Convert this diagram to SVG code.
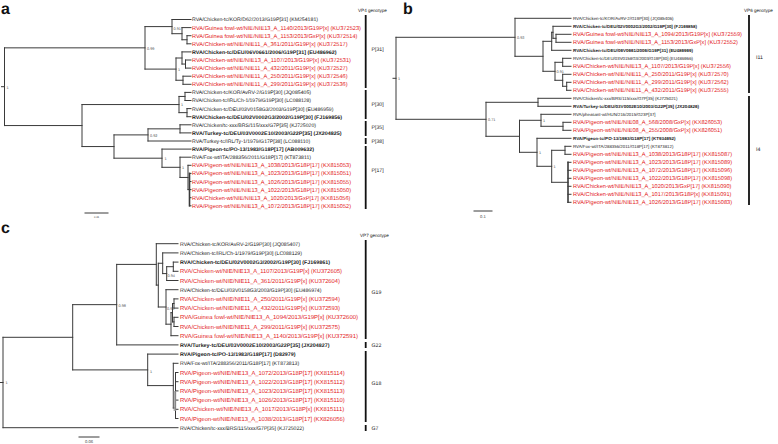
<svg xmlns="http://www.w3.org/2000/svg" width="778" height="444" viewBox="0 0 778 444">
<style>
text{font-family:"Liberation Sans",Arial,sans-serif;text-rendering:geometricPrecision}
.br{fill:none;stroke:#3a3a3a;stroke-width:1;stroke-linecap:square}
.bar{stroke:#111;stroke-width:1.8}
.k{fill:#1a1a1a}
.r{fill:#e3201b}
.bd{font-weight:bold}
.ak{font-size:5.1px}.ar{font-size:5.6px}
.bk{font-size:4.4px}.brd{font-size:5.6px}
.ck{font-size:5.2px}.cr{font-size:5.8px}
.nl{font-size:3.8px;fill:#555}
.gt{font-size:4.6px;fill:#222}
.gl{font-size:5.2px;fill:#222}
.pl{font-size:16px;font-weight:bold;fill:#111}
.sc{font-size:4.2px;fill:#444}
</style>
<rect width="778" height="444" fill="#fff"/>

<!-- Panel a -->
<g id="panel-a">
<text class="pl" x="1" y="13.5">a</text>
<g id="a-branches">
<path class="br" d="M1.5 86.7H4.5M4.5 47.85V125.55M4.5 47.85H145M4.5 125.55H82
M145 26.6V69.1M145 26.6H172M145 69.1H176
M172 19.5V33.7M172 19.5H191M172 33.7H182
M182 27.6V39.75M182 27.6H191M182 39.75H187
M187 35.7V43.8M187 35.7H191M187 43.8H191
M176 58V80.25M176 58H182M176 80.25H183
M182 51.9V64.05M182 51.9H191M182 64.05H185.5
M185.5 60V68.1M185.5 60H191M185.5 68.1H191
M183 76.2V84.3M183 76.2H191M183 84.3H191
M82 104.55V146.55M82 104.55H179M82 146.55H114
M179 96.45V112.65M179 96.45H185M179 112.65H187
M185 92.4V100.5M185 92.4H191M185 100.5H191
M187 108.6V116.7M187 108.6H191M187 116.7H191
M114 134.9V158.2M114 134.9H148M114 158.2H162
M148 128.85V141M148 128.85H180M148 141H191
M180 124.8V132.9M180 124.8H191M180 132.9H191
M162 149.1V167.3M162 149.1H191M162 167.3H180
M180 157.2V177.45M180 157.2H191M180 177.45H188
M188 165.3V189.6M188 165.3H191M188 189.6H189.5
M189.5 173.4H191M189.5 181.5H191M189.5 189.6H191M189.5 197.7H191M189.5 205.8H191"/>
<path class="br" style="stroke-width:1.6" d="M189.5 173.4V205.8"/>
</g>
<g id="a-support">
<text class="nl" x="6.5" y="88.5">1</text>
<text class="nl" x="147" y="49.5">0.99</text>
<text class="nl" x="173.5" y="29.5">0.91</text>
<text class="nl" x="178" y="71">1</text>
<text class="nl" x="181" y="106">1</text>
<text class="nl" x="150" y="136.5">0.92</text>
<text class="nl" x="164.5" y="160">1</text>
<text class="nl" x="182" y="169">1</text>
</g>
<g id="a-leaves" lengthAdjust="spacingAndGlyphs">
<text class="k ak" x="192" y="21.4" textLength="126" lengthAdjust="spacingAndGlyphs">RVA/Chicken-tc/KOR/D62/2013/G19P[31] (KM254181)</text>
<text class="r ar" x="192" y="29.6" textLength="169" lengthAdjust="spacingAndGlyphs">RVA/Guinea fowl-wt/NIE/NIE13_A_1140/2013/G19P[x] (KU372523)</text>
<text class="r ar" x="192" y="37.7" textLength="165.5" lengthAdjust="spacingAndGlyphs">RVA/Guinea fowl-wt/NIE/NIE13_A_1153/2013/GxP[x] (KU372514)</text>
<text class="r ar" x="192" y="45.8" textLength="155.6" lengthAdjust="spacingAndGlyphs">RVA/Chicken-wt/NIE/NIE11_A_361/2011/G19P[x] (KU372517)</text>
<text class="k ak bd" x="192" y="53.8" textLength="144.5" lengthAdjust="spacingAndGlyphs">RVA/Chicken-tc/DEU/06V0661/2006/G19P[31] (EU486962)</text>
<text class="r ar" x="192" y="62" textLength="159" lengthAdjust="spacingAndGlyphs">RVA/Chicken-wt/NIE/NIE13_A_1107/2013/G19P[x] (KU372531)</text>
<text class="r ar" x="192" y="70.1" textLength="155.6" lengthAdjust="spacingAndGlyphs">RVA/Chicken-wt/NIE/NIE11_A_432/2011/G19P[x] (KU372527)</text>
<text class="r ar" x="192" y="78.2" textLength="155.6" lengthAdjust="spacingAndGlyphs">RVA/Chicken-wt/NIE/NIE11_A_250/2011/G19P[x] (KU372546)</text>
<text class="r ar" x="192" y="86.3" textLength="155.6" lengthAdjust="spacingAndGlyphs">RVA/Chicken-wt/NIE/NIE11_A_299/2011/G19P[x] (KU372536)</text>
<text class="k ak" x="192" y="94.3" textLength="119" lengthAdjust="spacingAndGlyphs">RVA/Chicken-tc/KOR/AvRV-2/G19P[30] (JQ085405)</text>
<text class="k ak" x="192" y="102.4" textLength="119" lengthAdjust="spacingAndGlyphs">RVA/Chicken-tc/IRL/Ch-1/1979/G19P[30] (LC088128)</text>
<text class="k ak" x="192" y="110.5" textLength="141.4" lengthAdjust="spacingAndGlyphs">RVA/Chicken-tc/DEU/03V0158G3/2003/G19P[30] (EU486959)</text>
<text class="k ak bd" x="192" y="118.6" textLength="150" lengthAdjust="spacingAndGlyphs">RVA/Chicken-tc/DEU/02V0002G3/2002/G19P[30] (FJ169856)</text>
<text class="k ak" x="192" y="126.7" textLength="124" lengthAdjust="spacingAndGlyphs">RVA/Chicken/tc-xxx/BRS/115/xxx/G7P[35] (KJ725020)</text>
<text class="k ak bd" x="192" y="134.8" textLength="149.6" lengthAdjust="spacingAndGlyphs">RVA/Turkey-tc/DEU/03V0002E10/2003/G22P[35] (JX204825)</text>
<text class="k ak" x="192" y="142.9" textLength="118.2" lengthAdjust="spacingAndGlyphs">RVA/Turkey-tc/IRL/Ty-1/1979/G17P[38] (LC088110)</text>
<text class="k ak bd" x="192" y="151" textLength="122" lengthAdjust="spacingAndGlyphs">RVA/Pigeon-tc/PO-13/1983/G18P[17] (AB009632)</text>
<text class="k ak" x="192" y="159.1" textLength="119.1" lengthAdjust="spacingAndGlyphs">RVA/Fox-wt/ITA/288356/2011/G18P[17] (KT873811)</text>
<text class="r ar" x="192" y="167.3" textLength="159.1" lengthAdjust="spacingAndGlyphs">RVA/Pigeon-wt/NIE/NIE13_A_1038/2013/G18P[17] (KX815053)</text>
<text class="r ar" x="192" y="175.4" textLength="159.1" lengthAdjust="spacingAndGlyphs">RVA/Pigeon-wt/NIE/NIE13_A_1023/2013/G18P[17] (KX815051)</text>
<text class="r ar" x="192" y="183.5" textLength="159.1" lengthAdjust="spacingAndGlyphs">RVA/Pigeon-wt/NIE/NIE13_A_1026/2013/G18P[17] (KX815055)</text>
<text class="r ar" x="192" y="191.6" textLength="159.1" lengthAdjust="spacingAndGlyphs">RVA/Pigeon-wt/NIE/NIE13_A_1022/2013/G18P[17] (KX815050)</text>
<text class="r ar" x="192" y="199.7" textLength="158.4" lengthAdjust="spacingAndGlyphs">RVA/Chicken-wt/NIE/NIE13_A_1020/2013/GxP[17] (KX815056)</text>
<text class="r ar" x="192" y="207.8" textLength="159.1" lengthAdjust="spacingAndGlyphs">RVA/Pigeon-wt/NIE/NIE13_A_1072/2013/G18P[17] (KX815052)</text>
</g>
<g id="a-genotypes">
<text class="gt" x="358" y="11.5">VP4 genotype</text>
<path class="bar" d="M365.7 15V88M365.7 90V119M365.7 121V136M365.7 138V144M365.7 146V209"/>
<text class="gl" x="371.5" y="51">P[31]</text>
<text class="gl" x="371.5" y="106">P[30]</text>
<text class="gl" x="371.5" y="129">P[35]</text>
<text class="gl" x="371.5" y="142.5">P[38]</text>
<text class="gl" x="371.5" y="172">P[17]</text>
</g>
<g id="a-scale">
<path class="br" d="M85 213H108"/>
<text class="sc" x="96.5" y="218" text-anchor="middle" style="font-size:2.6px">0.05</text>
</g>
</g>

<!-- Panel b -->
<g id="panel-b">
<text class="pl" x="403" y="13.5">b</text>
<g id="b-branches">
<path class="br" d="M393 78.3H396M396 37.3V119.3M396 37.3H515M396 119.3H486
M515 18.3V56.3M515 18.3H571M515 56.3H543
M543 41.3V71.3M543 41.3H551.7M543 71.3H555
M551.7 32.3V50.3M551.7 32.3H553M551.7 50.3H571
M553 26.3V38.3M553 26.3H571M553 38.3H556
M556 34.3V42.3M556 34.3H571M556 42.3H571
M555 62.3V80.3M555 62.3H562.7M555 80.3H562.7
M562.7 58.3V66.3M562.7 58.3H571M562.7 66.3H571
M562.7 74.3V86.3M562.7 74.3H571M562.7 86.3H566.7
M566.7 82.3V90.3M566.7 82.3H571M566.7 90.3H571
M486 102.3V136.3M486 102.3H538M486 136.3H519.5
M538 98.3V106.3M538 98.3H571M538 106.3H571
M519.5 120.3V152.3M519.5 120.3H541M519.5 152.3H537
M541 114.3V126.3M541 114.3H571M541 126.3H563
M563 122.3V130.3M563 122.3H571M563 130.3H571
M537 138.3V166.3M537 138.3H571M537 166.3H551.7
M551.7 150.3V182.3M551.7 150.3H565M551.7 182.3H568
M565 146.3V154.3M565 146.3H571M565 154.3H571
M568 162.3H571M568 170.3H571M568 178.3H571M568 186.3H571M568 194.3H571M568 202.3H571"/>
<path class="br" style="stroke-width:1.6" d="M568 162.3V202.3"/>
</g>
<g id="b-support">
<text class="nl" x="398" y="80">1</text>
<text class="nl" x="517" y="39">0.93</text>
<text class="nl" x="556.5" y="73">0.91</text>
<text class="nl" x="488" y="121">0.71</text>
<text class="nl" x="543" y="121.5">1</text>
<text class="nl" x="539" y="154">1</text>
<text class="nl" x="553.5" y="168">1</text>
</g>
<g id="b-leaves">
<text class="k bk" x="573" y="19.9" textLength="100.5" lengthAdjust="spacingAndGlyphs">RVA/Chicken-tc/KOR/AvRV-2/G19P[30] (JQ085406)</text>
<text class="k bk bd" x="573" y="27.9" textLength="124" lengthAdjust="spacingAndGlyphs">RVA/Chicken-tc/DEU/02V0002G3/2002/G19P[30] (FJ169858)</text>
<text class="r brd" x="573" y="36.2" textLength="169" lengthAdjust="spacingAndGlyphs">RVA/Guinea fowl-wt/NIE/NIE13_A_1094/2013/G19P[x] (KU372559)</text>
<text class="r brd" x="573" y="44.2" textLength="165" lengthAdjust="spacingAndGlyphs">RVA/Guinea fowl-wt/NIE/NIE13_A_1153/2013/GxP[x] (KU372552)</text>
<text class="k bk bd" x="573" y="51.9" textLength="120" lengthAdjust="spacingAndGlyphs">RVA/Chicken-tc/DEU/06V0661/2006/G19P[31] (EU486969)</text>
<text class="k bk" x="573" y="59.9" textLength="120" lengthAdjust="spacingAndGlyphs">RVA/Chicken-tc/DEU/03V0158G3/2003/G19P[30] (EU486966)</text>
<text class="r brd" x="573" y="68.2" textLength="158" lengthAdjust="spacingAndGlyphs">RVA/Chicken-wt/NIE/NIE13_A_1107/2013/G19P[x] (KU372556)</text>
<text class="r brd" x="573" y="76.2" textLength="155.6" lengthAdjust="spacingAndGlyphs">RVA/Chicken-wt/NIE/NIE11_A_250/2011/G19P[x] (KU372570)</text>
<text class="r brd" x="573" y="84.2" textLength="155.6" lengthAdjust="spacingAndGlyphs">RVA/Chicken-wt/NIE/NIE11_A_299/2011/G19P[x] (KU372562)</text>
<text class="r brd" x="573" y="92.2" textLength="155.6" lengthAdjust="spacingAndGlyphs">RVA/Chicken-wt/NIE/NIE11_A_432/2011/G19P[x] (KU372555)</text>
<text class="k bk" x="573" y="99.9" textLength="104.4" lengthAdjust="spacingAndGlyphs">RVA/Chicken/tc-xxx/BRS/115/xxx/G7P[35] (KJ725021)</text>
<text class="k bk bd" x="573" y="107.9" textLength="126" lengthAdjust="spacingAndGlyphs">RVA/Turkey-tc/DEU/03V0002E10/2003/G22P[35] (JX204826)</text>
<text class="k bk" x="573" y="115.9" textLength="82.5" lengthAdjust="spacingAndGlyphs">RVA/pheasant-wt/HUN/216/2015/G23P[37]</text>
<text class="r brd" x="573" y="124.2" textLength="149.1" lengthAdjust="spacingAndGlyphs">RVA/Pigeon-wt/NIE/NIE08_A_568/2008/GxP[x] (KX826053)</text>
<text class="r brd" x="573" y="132.2" textLength="149.1" lengthAdjust="spacingAndGlyphs">RVA/Pigeon-wt/NIE/NIE08_A_255/2008/GxP[x] (KX826051)</text>
<text class="k bk bd" x="573" y="139.9" textLength="102.5" lengthAdjust="spacingAndGlyphs">RVA/Pigeon-tc/PO-13/1983/G18P[17] (KT934652)</text>
<text class="k bk" x="573" y="147.9" textLength="100.4" lengthAdjust="spacingAndGlyphs">RVA/Fox-wt/ITA/288356/2011/G18P[17] (KT873812)</text>
<text class="r brd" x="573" y="156.2" textLength="159.1" lengthAdjust="spacingAndGlyphs">RVA/Pigeon-wt/NIE/NIE13_A_1038/2013/G18P[17] (KX815087)</text>
<text class="r brd" x="573" y="164.2" textLength="159.1" lengthAdjust="spacingAndGlyphs">RVA/Pigeon-wt/NIE/NIE13_A_1023/2013/G18P[17] (KX815089)</text>
<text class="r brd" x="573" y="172.2" textLength="159.1" lengthAdjust="spacingAndGlyphs">RVA/Pigeon-wt/NIE/NIE13_A_1072/2013/G18P[17] (KX815096)</text>
<text class="r brd" x="573" y="180.2" textLength="159.1" lengthAdjust="spacingAndGlyphs">RVA/Pigeon-wt/NIE/NIE13_A_1022/2013/G18P[17] (KX815098)</text>
<text class="r brd" x="573" y="188.2" textLength="158.4" lengthAdjust="spacingAndGlyphs">RVA/Chicken-wt/NIE/NIE13_A_1020/2013/GxP[17] (KX815090)</text>
<text class="r brd" x="573" y="196.2" textLength="158.4" lengthAdjust="spacingAndGlyphs">RVA/Chicken-wt/NIE/NIE13_A_1017/2013/G18P[x] (KX815091)</text>
<text class="r brd" x="573" y="204.2" textLength="159.1" lengthAdjust="spacingAndGlyphs">RVA/Pigeon-wt/NIE/NIE13_A_1026/2013/G18P[17] (KX815083)</text>
</g>
<g id="b-genotypes">
<text class="gt" x="744" y="11.5">VP6 genotype</text>
<path class="bar" d="M749 15V93M749 96V205"/>
<text class="gl" x="756" y="58.5">I11</text>
<text class="gl" x="756" y="150.5">I4</text>
</g>
<g id="b-scale">
<path class="br" d="M474 211H492"/>
<text class="sc" x="483" y="217.5" text-anchor="middle">0.1</text>
</g>
</g>

<!-- Panel c -->
<g id="panel-c">
<text class="pl" x="1" y="233">c</text>
<g id="c-branches">
<path class="br" d="M0.5 382.5H3M3 337.3V427.7M3 337.3H72.7M3 427.7H178
M72.7 304.65V369.9M72.7 304.65H116.7M72.7 369.9H147.7
M116.7 264.4V344.9M116.7 264.4H156.3M116.7 344.9H178
M156.3 243.7V285.1M156.3 243.7H178M156.3 285.1H158.3
M158.3 263.25V307M158.3 263.25H162.7M158.3 307H166
M162.7 252.9V273.6M162.7 252.9H178M162.7 273.6H166.7
M166.7 266.7V280.5M166.7 266.7H173.3M166.7 280.5H178
M173.3 262.1V271.3M173.3 262.1H178M173.3 271.3H178
M166 289.7V324.2M166 289.7H178M166 324.2H171
M171 312.7V335.7M171 312.7H172.5M171 335.7H178
M172.5 303.5V321.9M172.5 303.5H174M172.5 321.9H174
M174 298.9V308.1M174 298.9H178M174 308.1H178
M174 317.3V326.5M174 317.3H178M174 326.5H178
M147.7 354.1V385.6M147.7 354.1H178M147.7 385.6H173.3
M173.3 363.3V408M173.3 363.3H178M173.3 408H175.5
M175.5 372.5V418.5M175.5 372.5H178M175.5 381.7H178M175.5 390.9H178M175.5 400.1H178M175.5 409.3H178M175.5 418.5H178"/>
<rect x="173.6" y="391" width="2.6" height="20" fill="#9a9a9a" opacity="0.8"/>
</g>
<g id="c-support">
<text class="nl" x="5.5" y="384">1</text>
<text class="nl" x="118.5" y="306.5">0.98</text>
<text class="nl" x="167.5" y="277">0.94</text>
<text class="nl" x="167" y="310">0.99</text>
<text class="nl" x="150" y="373">1</text>
</g>
<g id="c-leaves">
<text class="k ck" x="180" y="245.6" textLength="120" lengthAdjust="spacingAndGlyphs">RVA/Chicken-tc/KOR/AvRV-2/G19P[30] (JQ085407)</text>
<text class="k ck" x="180" y="254.8" textLength="121.9" lengthAdjust="spacingAndGlyphs">RVA/Chicken-tc/IRL/Ch-1/1979/G19P[30] (LC088129)</text>
<text class="k ck bd" x="180" y="264" textLength="150" lengthAdjust="spacingAndGlyphs">RVA/Chicken-tc/DEU/02V0002G3/2002/G19P[30] (FJ169861)</text>
<text class="r cr" x="180" y="273.4" textLength="162" lengthAdjust="spacingAndGlyphs">RVA/Chicken-wt/NIE/NIE13_A_1107/2013/G19P[x] (KU372605)</text>
<text class="r cr" x="180" y="282.6" textLength="160" lengthAdjust="spacingAndGlyphs">RVA/Chicken-wt/NIE/NIE11_A_361/2011/G19P[x] (KU372604)</text>
<text class="k ck" x="180" y="291.6" textLength="141.4" lengthAdjust="spacingAndGlyphs">RVA/Chicken-tc/DEU/03V0158G3/2003/G19P[30] (EU486974)</text>
<text class="r cr" x="180" y="301" textLength="160" lengthAdjust="spacingAndGlyphs">RVA/Chicken-wt/NIE/NIE11_A_250/2011/G19P[x] (KU372594)</text>
<text class="r cr" x="180" y="310.2" textLength="160" lengthAdjust="spacingAndGlyphs">RVA/Chicken-wt/NIE/NIE11_A_432/2011/G19P[x] (KU372593)</text>
<text class="r cr" x="180" y="319.4" textLength="178" lengthAdjust="spacingAndGlyphs">RVA/Guinea fowl-wt/NIE/NIE13_A_1094/2013/G19P[x] (KU372600)</text>
<text class="r cr" x="180" y="328.6" textLength="160" lengthAdjust="spacingAndGlyphs">RVA/Chicken-wt/NIE/NIE11_A_299/2011/G19P[x] (KU372575)</text>
<text class="r cr" x="180" y="337.8" textLength="178" lengthAdjust="spacingAndGlyphs">RVA/Guinea fowl-wt/NIE/NIE13_A_1140/2013/G19P[x] (KU372591)</text>
<text class="k ck bd" x="180" y="346.8" textLength="149.6" lengthAdjust="spacingAndGlyphs">RVA/Turkey-tc/DEU/03V0002E10/2003/G22P[35] (JX204827)</text>
<text class="k ck bd" x="180" y="356" textLength="115.6" lengthAdjust="spacingAndGlyphs">RVA/Pigeon-tc/PO-13/1983/G18P[17] (D82979)</text>
<text class="k ck" x="180" y="365.2" textLength="119.1" lengthAdjust="spacingAndGlyphs">RVA/Fox-wt/ITA/288356/2011/G18P[17] (KT873813)</text>
<text class="r cr" x="180" y="374.6" textLength="164.7" lengthAdjust="spacingAndGlyphs">RVA/Pigeon-wt/NIE/NIE13_A_1072/2013/G18P[17] (KX815114)</text>
<text class="r cr" x="180" y="383.8" textLength="164.7" lengthAdjust="spacingAndGlyphs">RVA/Pigeon-wt/NIE/NIE13_A_1022/2013/G18P[17] (KX815112)</text>
<text class="r cr" x="180" y="393" textLength="164.7" lengthAdjust="spacingAndGlyphs">RVA/Pigeon-wt/NIE/NIE13_A_1023/2013/G18P[17] (KX815113)</text>
<text class="r cr" x="180" y="402.2" textLength="164.7" lengthAdjust="spacingAndGlyphs">RVA/Pigeon-wt/NIE/NIE13_A_1026/2013/G18P[17] (KX815110)</text>
<text class="r cr" x="180" y="411.4" textLength="164.1" lengthAdjust="spacingAndGlyphs">RVA/Chicken-wt/NIE/NIE13_A_1017/2013/G18P[x] (KX815111)</text>
<text class="r cr" x="180" y="420.6" textLength="164.7" lengthAdjust="spacingAndGlyphs">RVA/Pigeon-wt/NIE/NIE13_A_1038/2013/G18P[17] (KX826056)</text>
<text class="k ck" x="180" y="429.6" textLength="123.9" lengthAdjust="spacingAndGlyphs">RVA/Chicken/tc-xxx/BRS/115/xxx/G7P[35] (KJ725022)</text>
</g>
<g id="c-genotypes">
<text class="gt" x="360" y="237">VP7 genotype</text>
<path class="bar" d="M365.7 240V339M365.7 342V348M365.7 351V422M365.7 425V431"/>
<text class="gl" x="371.5" y="294">G19</text>
<text class="gl" x="371.5" y="347.2">G22</text>
<text class="gl" x="371.5" y="385">G18</text>
<text class="gl" x="371.5" y="430">G7</text>
</g>
<g id="c-scale">
<path class="br" d="M79 437H99"/>
<text class="sc" x="89" y="442.5" text-anchor="middle">0.06</text>
</g>
</g>
</svg>
